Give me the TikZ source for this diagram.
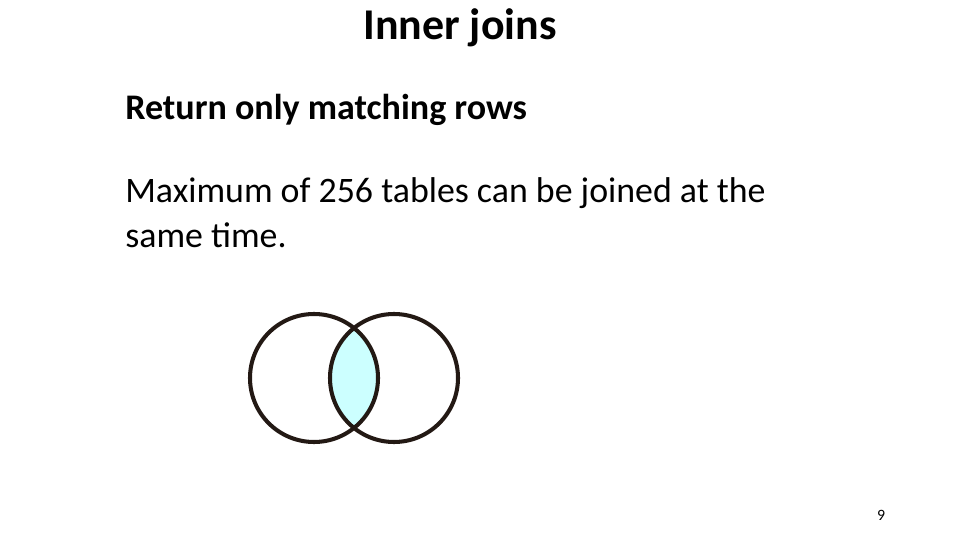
\documentclass[tikz,border=0pt]{standalone}
\usepackage{fontspec}
\setmainfont{Carlito}
\definecolor{Lens}{RGB}{204,255,255}
\definecolor{Ring}{RGB}{35,25,20}
\begin{document}
\begin{tikzpicture}[x=0.02cm,y=-0.02cm]
  \useasboundingbox (0,0) rectangle (960,540);
  \node[font=\fontsize{25}{30}\selectfont\bfseries] (title) at (460,28) {Inner joins};
  \node[anchor=west,inner sep=0pt,font=\fontsize{20.5}{25}\selectfont\bfseries] (sub) at (125,110) {Return only matching rows};
  \node[anchor=north west,align=left,inner sep=0pt,font=\fontsize{20.4}{26}\selectfont] (body) at (125,177) {Maximum of 256 tables can be joined at the\\ same time.};
  % intersection
  \begin{scope}
    \clip (314,378) circle (64);
    \fill[Lens] (394,378) circle (64);
  \end{scope}
  \draw[Ring, line width=2.3pt] (314,378) circle (64);
  \draw[Ring, line width=2.3pt] (394,378) circle (64);
  \node[font=\fontsize{9}{11}\selectfont] (page) at (881,515) {9};
\end{tikzpicture}
\end{document}
